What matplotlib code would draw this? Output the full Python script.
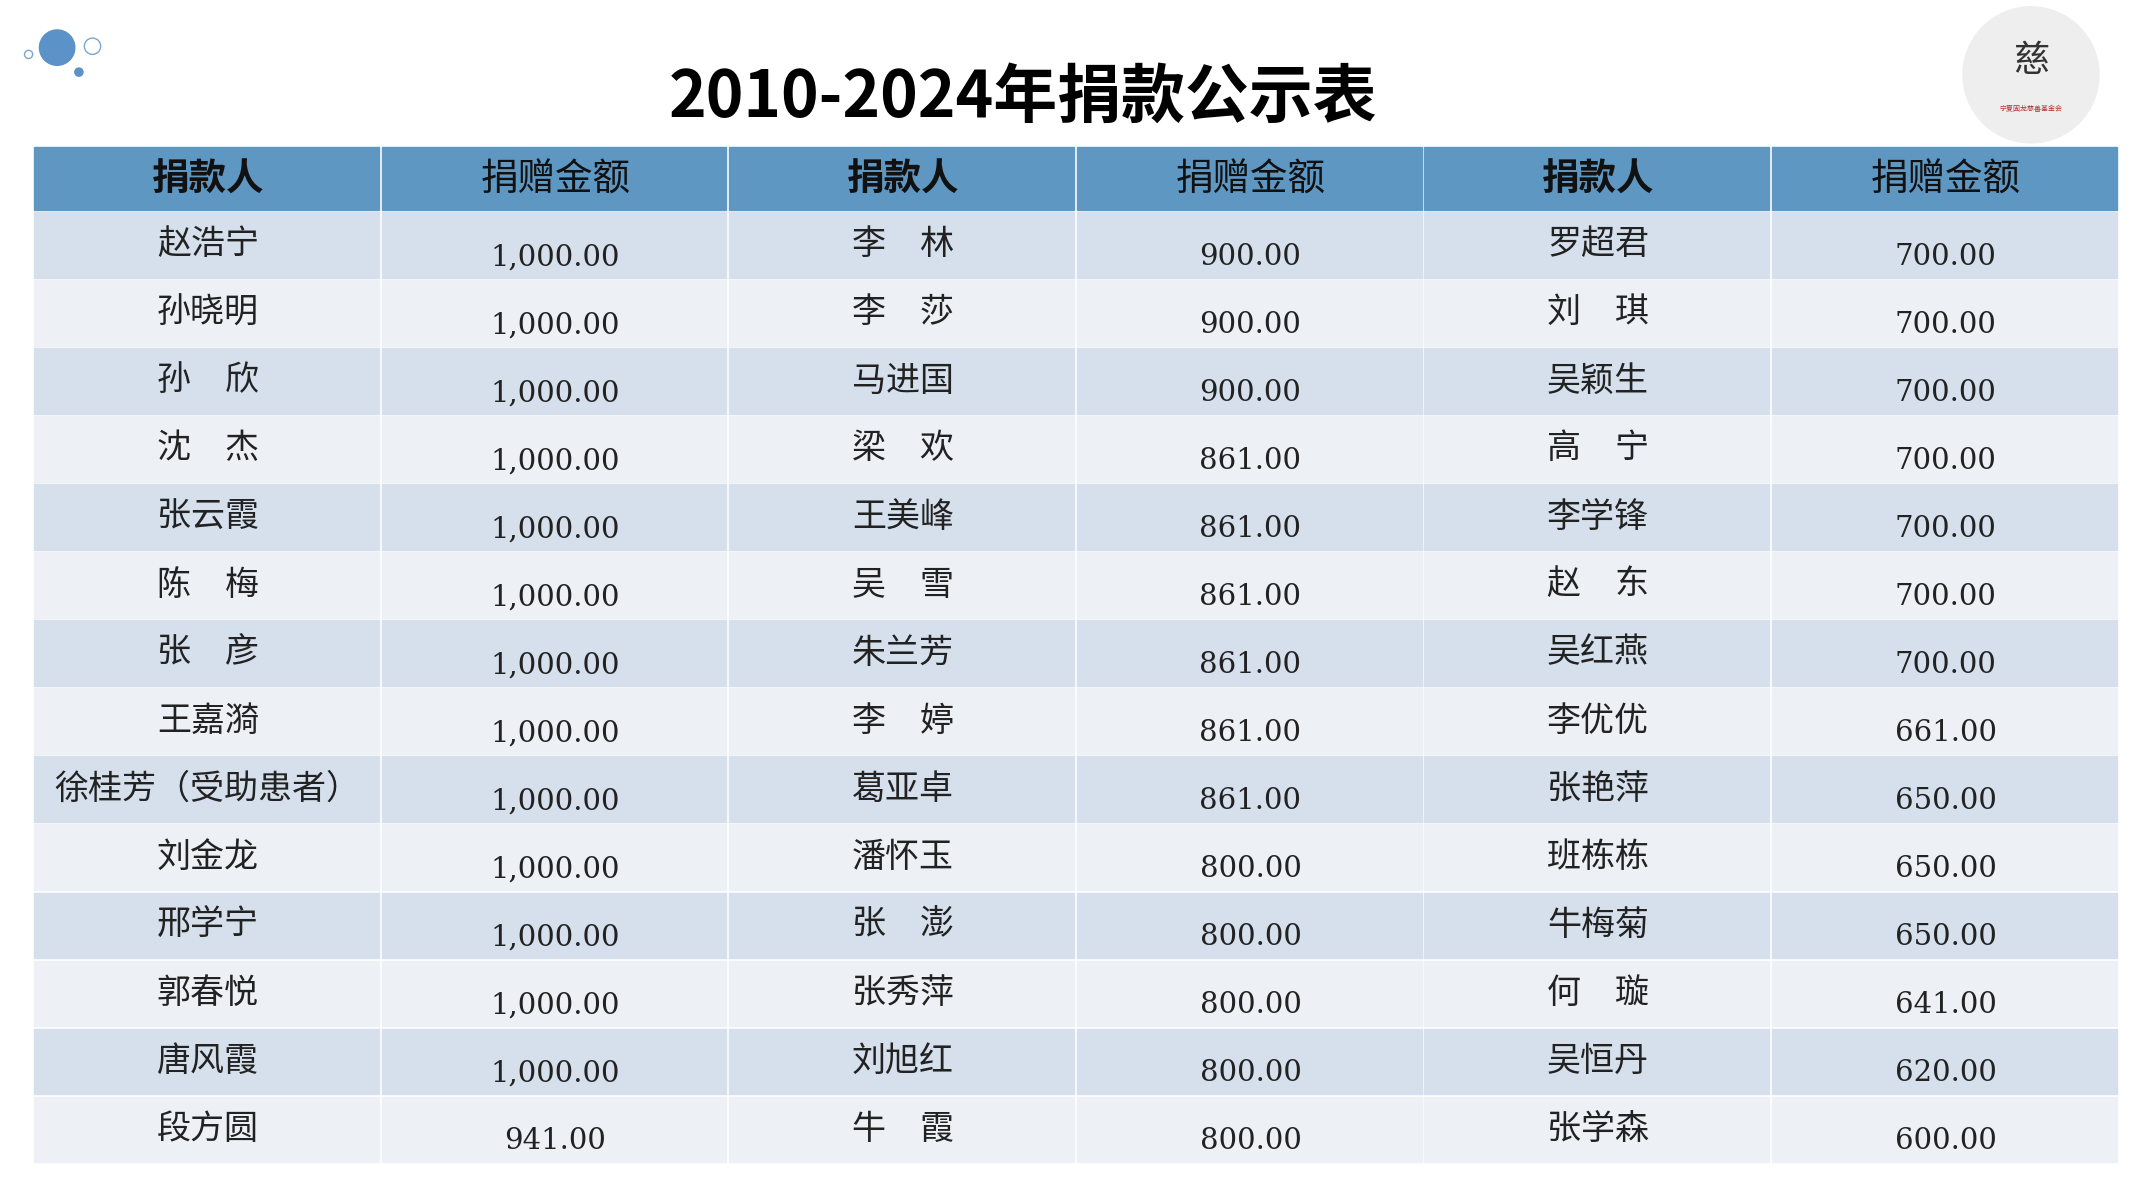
import matplotlib
matplotlib.use("Agg")
import matplotlib.pyplot as plt
from matplotlib.patches import Rectangle, Circle

plt.rcParams['font.family'] = ['Noto Sans CJK SC', 'DejaVu Sans']

title = "2010-2024年捐款公示表"
headers = ["捐款人", "捐赠金额", "捐款人", "捐赠金额", "捐款人", "捐赠金额"]
names1 = ["赵浩宁", "孙晓明", "孙　欣", "沈　杰", "张云霞", "陈　梅", "张　彦", "王嘉漪",
          "徐桂芳（受助患者）", "刘金龙", "邢学宁", "郭春悦", "唐风霞", "段方圆"]
amounts1 = ["1,000.00"] * 13 + ["941.00"]
names2 = ["李　林", "李　莎", "马进国", "梁　欢", "王美峰", "吴　雪", "朱兰芳", "李　婷",
          "葛亚卓", "潘怀玉", "张　澎", "张秀萍", "刘旭红", "牛　霞"]
amounts2 = ["900.00"] * 3 + ["861.00"] * 6 + ["800.00"] * 5
names3 = ["罗超君", "刘　琪", "吴颖生", "高　宁", "李学锋", "赵　东", "吴红燕", "李优优",
          "张艳萍", "班栋栋", "牛梅菊", "何　璇", "吴恒丹", "张学森"]
amounts3 = ["700.00"] * 7 + ["661.00", "650.00", "650.00", "650.00", "641.00", "620.00", "600.00"]

columns = [names1, amounts1, names2, amounts2, names3, amounts3]

fig = plt.figure(figsize=(21.33, 12), dpi=100)
ax = fig.add_axes([0, 0, 1, 1])
ax.set_xlim(0, 1568)
ax.set_ylim(882, 0)
ax.axis('off')
fig.patch.set_facecolor('white')

x0, colw = 25, 255.5
hy, hh = 108, 46
ry0, rh = 156, 50

ax.text(752, 72, title, ha='center', va='center', fontsize=46, fontweight='black')

for j, h in enumerate(headers):
    x = x0 + j * colw
    ax.add_patch(Rectangle((x, hy), colw - 2, hh, color='#5f97c3'))
    ax.text(x + colw / 2, hy + hh / 2 + 1, h, ha='center', va='center', fontsize=27,
            fontweight='bold' if j % 2 == 0 else 'normal', color='#111111')

for i in range(len(names1)):
    y = ry0 + i * rh
    bg = '#d5e0ec' if i % 2 == 0 else '#edf1f6'
    for j, col in enumerate(columns):
        x = x0 + j * colw
        ax.add_patch(Rectangle((x, y), colw - 2, rh - 2, color=bg))
        if j % 2 == 0:
            ax.text(x + colw / 2, y + 24, col[i], ha='center', va='center', fontsize=24.5,
                    color='#222222')
        else:
            ax.text(x + colw / 2, y + 33, col[i], ha='center', va='center', fontsize=21,
                    family=['DejaVu Serif'], color='#222222')

# decorative dots
ax.add_patch(Circle((42, 35), 13, color='#5b93c8'))
ax.add_patch(Circle((68, 34), 6, fill=False, ec='#7aa7d0', lw=1))
ax.add_patch(Circle((21, 40), 3, fill=False, ec='#7aa7d0', lw=1))
ax.add_patch(Circle((58, 53), 3, color='#5b93c8'))
# logo placeholder
ax.add_patch(Circle((1493, 55), 50, color='#eeeeee'))
ax.text(1493, 45, "慈", ha='center', va='center', fontsize=26, color='#333333')
ax.text(1493, 80, "宁夏固龙慈善基金会", ha='center', va='center', fontsize=5, color='#b03030')

fig.savefig('out.png', dpi=100)
